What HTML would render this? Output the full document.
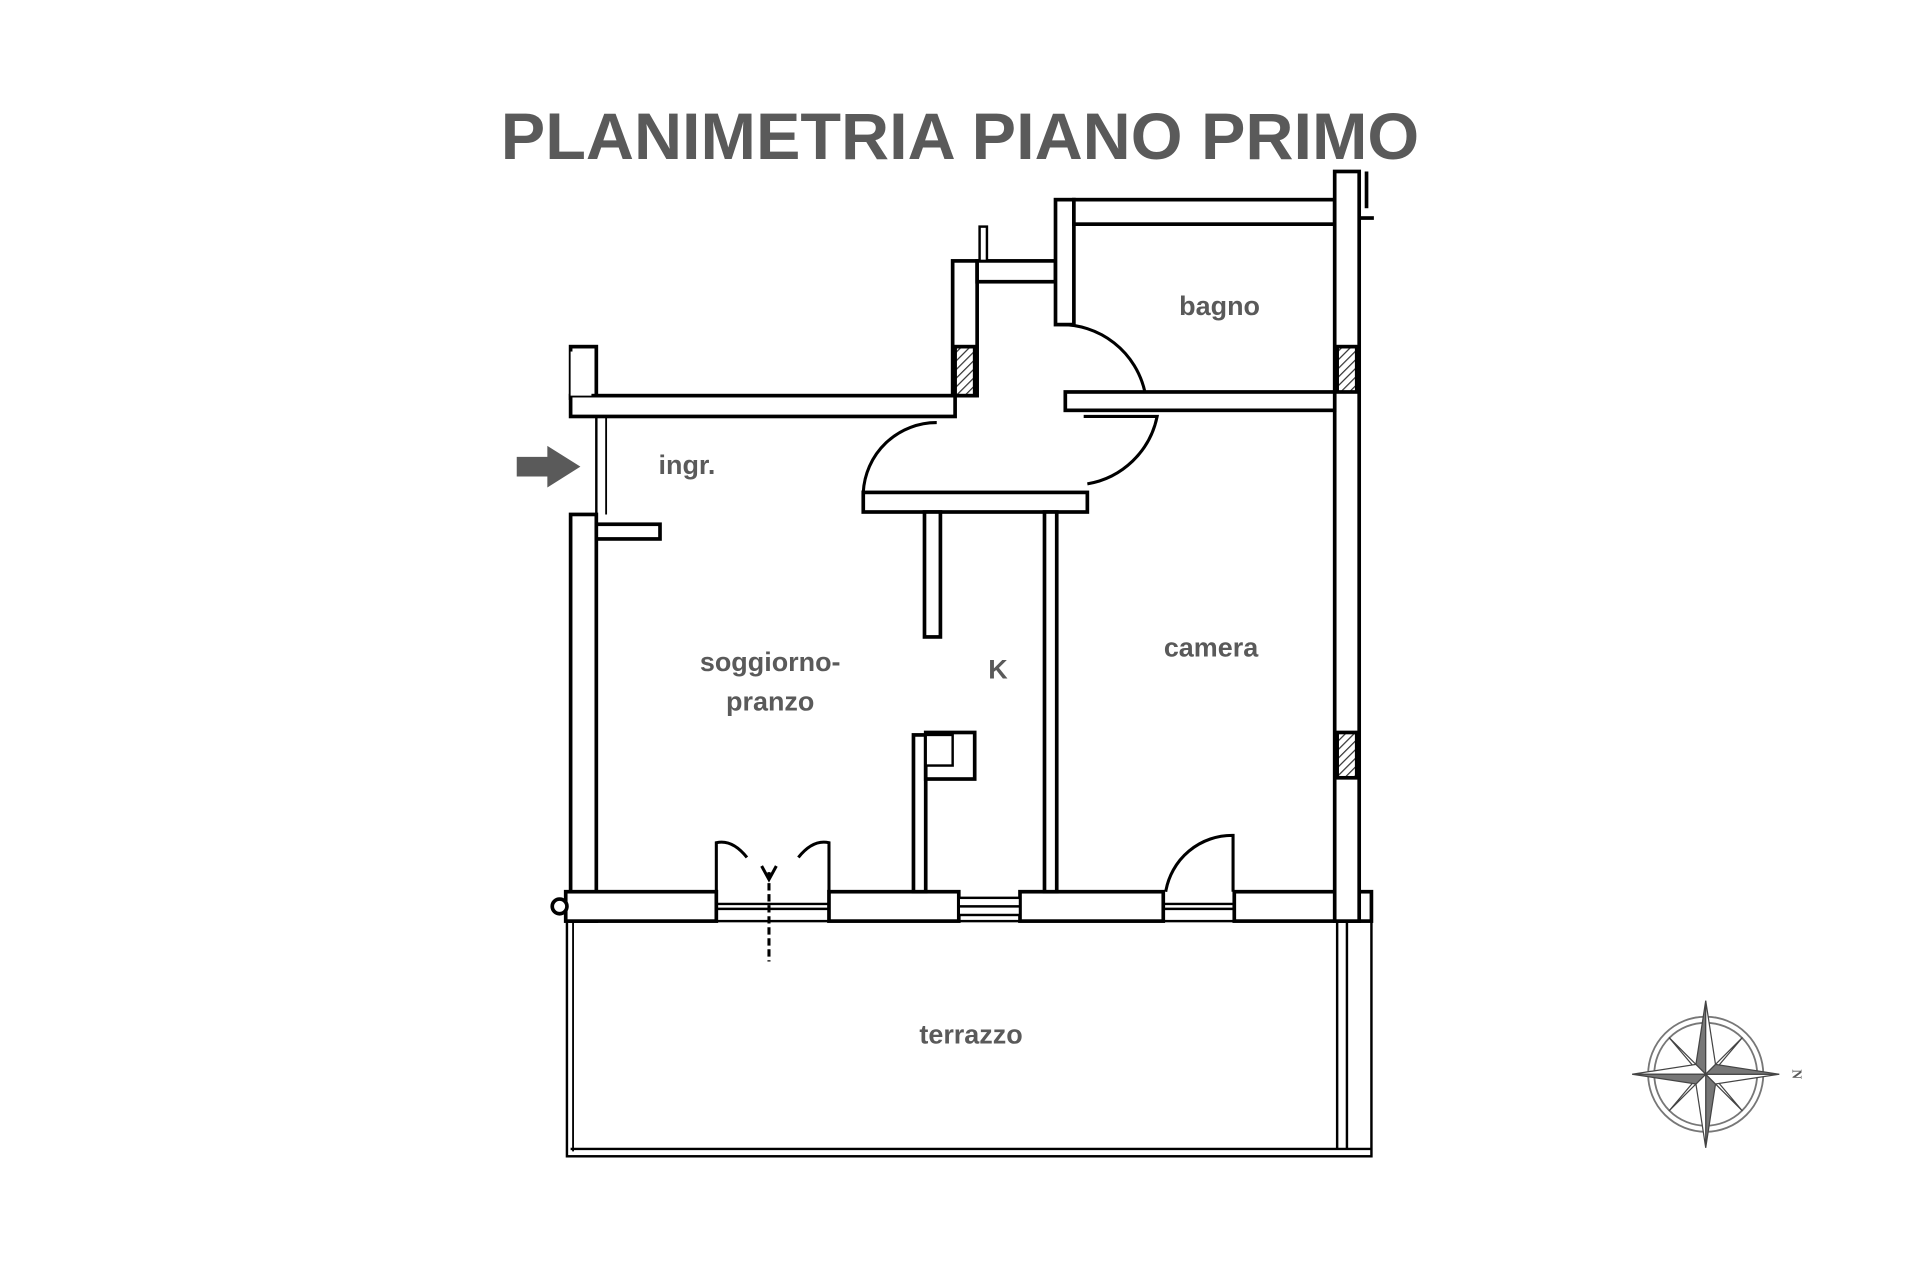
<!DOCTYPE html>
<html><head><meta charset="utf-8"><style>
html,body{margin:0;padding:0;background:#fff;width:1920px;height:1280px;overflow:hidden}
svg{display:block}
text{font-family:"Liberation Sans",sans-serif;font-weight:bold;fill:#5a5a5a}
</style></head><body>
<svg width="1920" height="1280" viewBox="0 0 1568 1045" preserveAspectRatio="none" xmlns="http://www.w3.org/2000/svg">
<defs>
<pattern id="h" width="5" height="5" patternUnits="userSpaceOnUse" patternTransform="rotate(45)">
<rect width="5" height="5" fill="#fff"/><line x1="0" y1="0" x2="0" y2="5" stroke="#333" stroke-width="2"/></pattern>
</defs>
<text x="784" y="130" font-size="54" text-anchor="middle" textLength="750" lengthAdjust="spacingAndGlyphs">PLANIMETRIA PIANO PRIMO</text>

<g fill="#fff" stroke="#000" stroke-width="3">
<!-- terrace -->
<rect x="463" y="752" width="657" height="192" fill="none" stroke-width="2"/>
<line x1="468" y1="752" x2="468" y2="940" stroke-width="1.5"/>
<line x1="466" y1="938" x2="1120" y2="938" stroke-width="2"/>
<line x1="1092" y1="752" x2="1092" y2="938" stroke-width="2"/>
<line x1="1100" y1="752" x2="1100" y2="938" stroke-width="2"/>
<!-- left wall -->
<rect x="466" y="420" width="21" height="332"/>
<rect x="466" y="283" width="21" height="42"/>
<rect x="466" y="323" width="314" height="17"/>
<rect x="487" y="428" width="52" height="12"/>
<line x1="487" y1="340" x2="487" y2="420" stroke-width="2"/>
<line x1="495" y1="340" x2="495" y2="420" stroke-width="1.5"/>
<!-- bottom wall -->
<rect x="462" y="728" width="123" height="24"/>
<circle cx="457" cy="740" r="6"/>
<rect x="677" y="728" width="106" height="24"/>
<rect x="833" y="728" width="117" height="24"/>
<rect x="1008" y="728" width="112" height="24"/>
<line x1="585" y1="738" x2="677" y2="738" stroke-width="2"/><line x1="585" y1="742" x2="677" y2="742" stroke-width="2"/>
<line x1="950" y1="738" x2="1008" y2="738" stroke-width="2"/><line x1="950" y1="742" x2="1008" y2="742" stroke-width="2"/>
<rect x="783" y="733" width="50" height="14" stroke-width="2"/><line x1="783" y1="740" x2="833" y2="740" stroke-width="2"/>
<!-- upper corridor -->
<rect x="778" y="213" width="20" height="110"/>
<rect x="780" y="283" width="16" height="40" fill="url(#h)"/>
<rect x="798" y="213" width="64" height="17"/>
<rect x="800" y="185" width="6" height="28" stroke-width="2"/>
<rect x="862" y="163" width="15" height="102"/>
<rect x="877" y="163" width="213" height="20"/>
<rect x="1090" y="140" width="20" height="612"/>
<rect x="1092" y="283" width="16" height="37" fill="url(#h)"/>
<rect x="1092" y="598" width="16" height="37" fill="url(#h)"/>
<line x1="1116" y1="140" x2="1116" y2="170" stroke-width="3"/>
<line x1="1110" y1="178" x2="1122" y2="178" stroke-width="3"/>
<rect x="870" y="320" width="220" height="15"/>
<rect x="466" y="287" width="17" height="36" stroke="none"/>
<!-- corridor bottom -->
<rect x="705" y="402" width="183" height="16"/>
<rect x="755" y="418" width="13" height="102"/>
<rect x="853" y="418" width="10" height="310"/>
<!-- K stub -->
<rect x="746" y="600" width="10" height="128"/>
<rect x="756" y="598" width="40" height="38"/>
<rect x="756" y="600" width="22" height="25" stroke-width="2"/>
</g>
<!-- door arcs -->
<g fill="none" stroke="#000" stroke-width="2.5">
<path d="M865 265 A70 70 0 0 1 935 320"/>
<path d="M885 340 L945 340 A70 70 0 0 1 888 395"/>
<path d="M765 345 A60 60 0 0 0 705 402"/>
<path d="M952 728 A55 55 0 0 1 1007 682 L1007 728"/>
<path d="M585 728 L585 688 Q598 685 610 700"/>
<path d="M677 728 L677 688 Q664 685 652 700"/>
<line x1="628" y1="712" x2="628" y2="785" stroke-dasharray="6 3"/>
<path d="M622 707 L628 718 L634 707"/>
</g>
<!-- arrow -->
<polygon points="422,373 447,373 447,364 474,381 447,398 447,389 422,389" fill="#5a5a5a"/>
<!-- labels -->
<text x="996" y="257" font-size="22" text-anchor="middle">bagno</text>
<text x="561" y="387" font-size="22" text-anchor="middle">ingr.</text>
<text x="629" y="548" font-size="22" text-anchor="middle">soggiorno-</text>
<text x="629" y="580" font-size="22" text-anchor="middle">pranzo</text>
<text x="815" y="554" font-size="22" text-anchor="middle">K</text>
<text x="989" y="536" font-size="22" text-anchor="middle">camera</text>
<text x="793" y="852" font-size="22" text-anchor="middle">terrazzo</text>
<!-- compass -->
<g transform="translate(1393,877)" stroke="#444" stroke-width="1">
<circle r="47" fill="none" stroke="#777" stroke-width="1.5"/>
<circle r="42" fill="none" stroke="#777" stroke-width="1.5"/>
<g fill="#fff">
<polygon points="0,0 30,-30 8,-4"/><polygon points="0,0 30,30 8,4"/>
<polygon points="0,0 -30,-30 -8,-4"/><polygon points="0,0 -30,30 -8,4"/>
</g>
<polygon points="0,-60 -8,-8 0,0" fill="#777"/><polygon points="0,-60 8,-8 0,0" fill="#fff"/>
<polygon points="0,60 8,8 0,0" fill="#777"/><polygon points="0,60 -8,8 0,0" fill="#fff"/>
<polygon points="60,0 8,8 0,0" fill="#fff"/><polygon points="60,0 8,-8 0,0" fill="#777"/>
<polygon points="-60,0 -8,-8 0,0" fill="#fff"/><polygon points="-60,0 -8,8 0,0" fill="#777"/>
</g>
<text x="1464" y="877" font-size="11" font-family="Liberation Serif" transform="rotate(90 1464 877)" text-anchor="middle" style="font-family:'Liberation Serif',serif">N</text>
</svg>
</body></html>
